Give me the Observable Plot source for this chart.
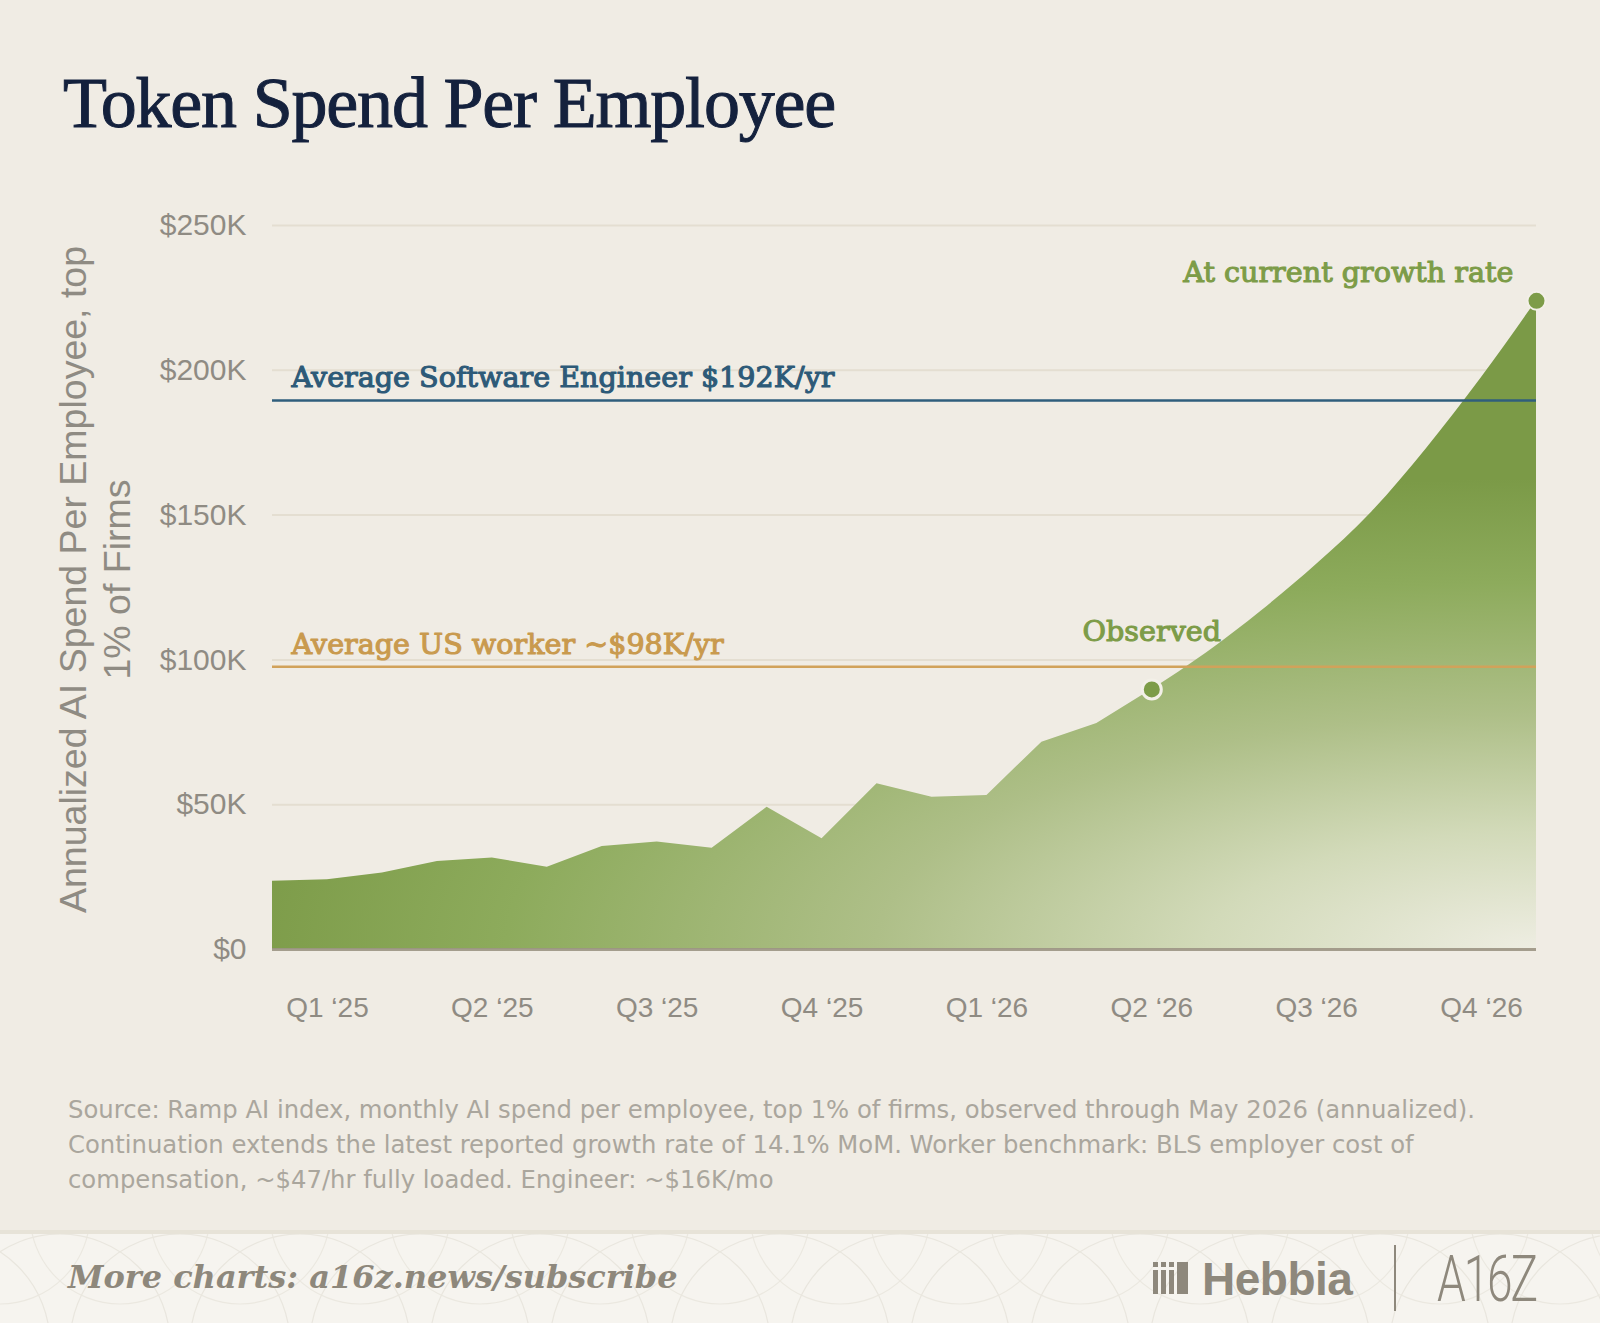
<!DOCTYPE html>
<html>
<head>
<meta charset="utf-8">
<script src="https://cdn.jsdelivr.net/npm/d3@7"></script>
<script src="https://cdn.jsdelivr.net/npm/@observablehq/plot@0.6"></script>
<style>
  html, body { margin: 0; padding: 0; background: #f0ece4; }
  #page { position: relative; width: 1600px; height: 1323px; background: #f0ece4; overflow: hidden; }
  #title { position: absolute; left: 63px; top: 67px; font-family: "Liberation Serif", serif; font-size: 72px; line-height: 1; letter-spacing: -1.2px; color: #14213d; -webkit-text-stroke: 1px #14213d; white-space: nowrap; }
  #chart { position: absolute; left: 0; top: 170px; }
  #caption { position: absolute; left: 68px; top: 1092px; font-family: "DejaVu Sans", sans-serif; font-size: 24.3px; line-height: 35px; color: #aaa69d; white-space: nowrap; }
  #footer { position: absolute; left: 0; top: 1230px; width: 1600px; height: 93px; background: #f6f4ef; border-top: 4px solid #e7e3d8; }
  #more { position: absolute; left: 68px; top: 1261px; font-family: "DejaVu Serif", serif; font-style: italic; font-weight: bold; font-size: 32px; line-height: 1; color: #8e887c; white-space: nowrap; }
  #hebbia { position: absolute; left: 1202px; top: 1256px; font-family: "Liberation Sans", sans-serif; font-weight: bold; font-size: 46px; line-height: 1; color: #8e887c; letter-spacing: -0.5px; }
  #divider { position: absolute; left: 1394px; top: 1245px; width: 2px; height: 66px; background: #8e887c; }
  #a16z { position: absolute; left: 1437px; top: 1248px; font-family: "Roboto", sans-serif; font-weight: 300; font-size: 64px; line-height: 1; color: #8e887c; transform: scaleX(0.72); transform-origin: left top; letter-spacing: -3px; }
</style>
</head>
<body>
<div id="page">
  <div id="title">Token Spend Per Employee</div>
  <div id="chart"></div>
  <div id="caption">
    <div>Source: Ramp AI index, monthly AI spend per employee, top 1% of firms, observed through May 2026 (annualized).</div>
    <div>Continuation extends the latest reported growth rate of 14.1% MoM. Worker benchmark: BLS employer cost of</div>
    <div>compensation, ~$47/hr fully loaded. Engineer: ~$16K/mo</div>
  </div>
  <div id="footer"></div>
  <svg id="pattern" style="position:absolute;left:0;top:1234px" width="1600" height="89"></svg>
  <div id="more">More charts: a16z.news/subscribe</div>
  <svg style="position:absolute;left:1153px;top:1262px" width="36" height="32">
    <g fill="#8e887c">
      <rect x="0" y="0" width="5" height="5"/><rect x="0" y="8" width="5" height="24"/>
      <rect x="8" y="0" width="5" height="5"/><rect x="8" y="8" width="5" height="24"/>
      <rect x="16" y="0" width="5" height="5"/><rect x="16" y="8" width="5" height="24"/>
      <rect x="24" y="0" width="11" height="32"/>
    </g>
  </svg>
  <div id="hebbia">Hebbia</div>
  <div id="divider"></div>
  <div id="a16z">A16Z</div>
</div>
<script>
// ---- data ----
const months = ["Jan 25","Feb 25","Mar 25","Apr 25","May 25","Jun 25","Jul 25","Aug 25","Sep 25","Oct 25","Nov 25","Dec 25",
                "Jan 26","Feb 26","Mar 26","Apr 26","May 26","Jun 26","Jul 26","Aug 26","Sep 26","Oct 26","Nov 26","Dec 26"];
// observed annualized spend per employee ($K), Jan 2025 – May 2026
const observed = [23.6, 24.1, 26.4, 30.4, 31.6, 28.4, 35.6, 37.1, 35.0, 49.1, 38.2, 57.2, 52.6, 53.2, 71.6, 78.0, 89.8];
// continuation at current growth rate ($K), May 2026 – Dec 2026
const projected = [89.8, 102.5, 117, 133, 151, 173, 197.5, 224];
const quarterLabels = ["Q1 \u201825","Q2 \u201825","Q3 \u201825","Q4 \u201825","Q1 \u201826","Q2 \u201826","Q3 \u201826","Q4 \u201826"];
const quarterMonths = ["Feb 25","May 25","Aug 25","Nov 25","Feb 26","May 26","Aug 26","Nov 26"];
const yTicks = [0, 50, 100, 150, 200, 250];
const benchLabels = ["Average Software Engineer $192K/yr", "Average US worker ~$98K/yr"];
const benchValues = [189.6, 97.6];
const benchColors = ["#2f5e7c", "#d1a25a"];
const benchTextColors = ["#2d5a78", "#c99a4e"];

// ---- tables ----
const obsRows = observed.map((v, i) => ({i, month: months[i], v}));
const projStart = observed.length - 1;
const projRows = projected.map((v, k) => ({i: projStart + k, month: months[projStart + k], v}));
const bench = benchLabels.map((label, k) => ({label, v: benchValues[k], stroke: benchColors[k], fill: benchTextColors[k]}));
const xTickPos = quarterMonths.map(m => months.indexOf(m));
const lastObs = obsRows[obsRows.length - 1];
const lastProj = projRows[projRows.length - 1];
const annoFont = "DejaVu Serif";
const green = "#7d9c48";

const annoStyle = {fontSize: 28.6, fontFamily: annoFont, strokeWidth: 1.1, lineAnchor: "bottom"};

const chart = Plot.plot({
  width: 1600,
  height: 890,
  marginLeft: 272,
  marginRight: 64,
  marginTop: 55,
  marginBottom: 111,
  style: {background: "transparent", fontFamily: "Liberation Sans, sans-serif", overflow: "visible"},
  x: {type: "linear", domain: [0, months.length - 1], axis: null},
  y: {domain: [0, 250], axis: null},
  marks: [
    Plot.gridY(yTicks, {stroke: "#e4ded1", strokeOpacity: 1, strokeWidth: 2}),
    Plot.areaY(obsRows, {x: "i", y: "v", fill: "url(#areaGrad)", curve: "linear"}),
    Plot.areaY(projRows, {x: "i", y: "v", fill: "url(#areaGrad)", curve: "monotone-x"}),
    Plot.ruleX([lastObs], {x: "i", y1: 0, y2: "v", stroke: "url(#areaGrad)", strokeWidth: 2}),
    Plot.ruleY([0], {stroke: "#9c9584", strokeOpacity: 0.9, strokeWidth: 3}),
    Plot.ruleY(bench, {y: "v", stroke: "stroke", strokeWidth: 2.5}),
    Plot.text(bench, {x: 0, y: "v", text: "label", fill: "fill", stroke: "fill", textAnchor: "start",
      dx: 19, dy: -13, ...annoStyle}),
    Plot.axisY(yTicks, {tickSize: 0, tickPadding: 26, fontSize: 30, fill: "#8f8b83", label: null,
      tickFormat: d => d === 0 ? "$0" : `$${d}K`}),
    Plot.axisX(xTickPos, {tickSize: 0, tickPadding: 48, fontSize: 28, fill: "#8f8b83", label: null,
      tickFormat: d => quarterLabels[xTickPos.indexOf(d)]}),
    Plot.text(["Annualized AI Spend Per Employee, top\n1% of Firms"], {frameAnchor: "left", text: d => d, rotate: -90,
      dx: -179, dy: -8, fontSize: 37.5, lineHeight: 1.18, fill: "#8f8b83", textAnchor: "middle", lineAnchor: "middle"}),
    Plot.dot([lastObs], {x: "i", y: "v", r: 9.5, fill: green, stroke: "#f3f0e8", strokeWidth: 3}),
    Plot.dot([lastProj], {x: "i", y: "v", r: 9, fill: green, stroke: "#f3f0e8", strokeWidth: 2}),
    Plot.text([lastObs], {x: "i", y: "v", text: () => "Observed", dy: -48, fill: green, stroke: green, ...annoStyle}),
    Plot.text([lastProj], {x: "i", y: "v", text: () => "At current growth rate", dx: -23, dy: -19, textAnchor: "end",
      fill: green, stroke: green, ...annoStyle})
  ]
});

// gradient definition for the area
const ns = "http://www.w3.org/2000/svg";
const defs = document.createElementNS(ns, "defs");
defs.innerHTML = `
  <radialGradient id="areaGrad" gradientUnits="userSpaceOnUse" cx="1536" cy="779" r="1"
     gradientTransform="translate(1536 779) scale(1320 470) translate(-1536 -779)">
    <stop offset="0" stop-color="#eeede2"/>
    <stop offset="0.25" stop-color="#d2dab9"/>
    <stop offset="0.5" stop-color="#aebf88"/>
    <stop offset="0.78" stop-color="#8dab5c"/>
    <stop offset="1" stop-color="#7b9a47"/>
  </radialGradient>`;
chart.insertBefore(defs, chart.firstChild);
document.getElementById("chart").appendChild(chart);

// faint footer pattern
const pat = document.getElementById("pattern");
let arcs = "";
for (let x = -60; x < 1700; x += 120) {
  arcs += `<circle cx="${x}" cy="110" r="110" fill="none" stroke="#e9e6de" stroke-width="1.2"/>`;
  arcs += `<circle cx="${x + 60}" cy="-20" r="90" fill="none" stroke="#ebe8e0" stroke-width="1.2"/>`;
}
pat.innerHTML = arcs;
</script>
</body>
</html>
